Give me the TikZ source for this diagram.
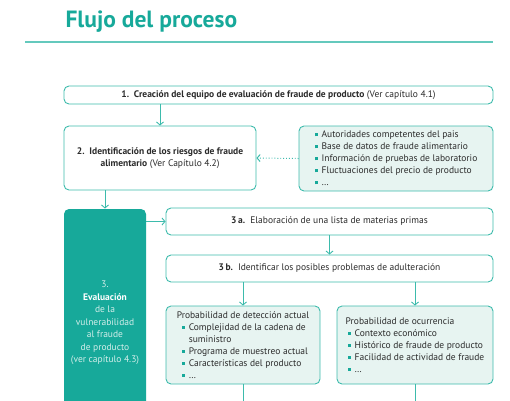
\documentclass[tikz,border=0pt]{standalone}
\usepackage{fontspec}
\setmainfont{PT Sans}
\usetikzlibrary{arrows.meta}
\definecolor{verdeazul}{HTML}{17A99A}
\definecolor{bordeazul}{HTML}{3DBBAC}
\definecolor{fondoclaro}{HTML}{E7F4F1}
\definecolor{textogris}{HTML}{2B2B2B}
\definecolor{textoclaro}{HTML}{D3EEEA}
\newcommand{\punto}{\textcolor{verdeazul}{\rule[1.4pt]{3pt}{3pt}}\hspace{4pt}}

\begin{document}
\begin{tikzpicture}[x=1pt, y=-1pt, % 1 px = 1 pt, y nach unten
  caja/.style={draw=bordeazul, line width=0.9pt, rounded corners=5pt, fill=white,
    text=textogris, font=\fontsize{9.5}{12}\selectfont, align=center, inner sep=2pt},
  cajaclara/.style={caja, fill=fondoclaro, align=left},
  flecha/.style={bordeazul, line width=0.9pt, -{Straight Barb[length=3pt,width=7pt]}}]

\clip (0,0) rectangle (510,400);

% Titel
\node[anchor=west, text=verdeazul, font=\fontsize{23.5}{27}\selectfont\bfseries] (titulo) at (62,22) {Flujo del proceso};
\draw[bordeazul!80, line width=1.2pt] (25,42) -- (493,42);

% Kästen
\node[caja, minimum width=429pt, minimum height=18pt] (paso1) at (278.5,95)
  {\textbf{1.\ \ Creación del equipo de evaluación de fraude de producto} (Ver capítulo 4.1)};
\node[caja, minimum width=192pt, minimum height=64pt] (paso2) at (160,158)
  {\textbf{2.\ \ Identificación de los riesgos de fraude}\\ \textbf{alimentario} (Ver Capítulo 4.2)};
\node[cajaclara, minimum width=194pt, minimum height=65pt] (fuentes) at (396,158.5)
  {\punto Autoridades competentes del pais\\
   \punto Base de datos de fraude alimentario\\
   \punto Información de pruebas de laboratorio\\
   \punto Fluctuaciones del precio de producto\\
   \punto \dots};
\node[caja, draw=none, fill=verdeazul, text=textoclaro, minimum width=82pt, minimum height=228pt,
  font=\fontsize{9.5}{12.5}\selectfont] (paso3) at (105,323)
  {3.\\ \textcolor{white}{\textbf{Evaluación}}\\ de la\\ vulnerabilidad\\ al fraude\\ de producto\\ (ver capítulo 4.3)};
\node[caja, minimum width=327pt, minimum height=27pt] (paso3a) at (329.5,221.5)
  {\textbf{3\,a.}\ \ Elaboración de una lista de materias primas};
\node[caja, minimum width=327pt, minimum height=27pt] (paso3b) at (329.5,268.5)
  {\textbf{3\,b.}\ \ Identificar los posibles problemas de adulteración};
\node[cajaclara, minimum width=154pt, minimum height=78pt] (deteccion) at (243,345)
  {Probabilidad de detección actual\\
   \hspace{5pt}\punto Complejidad de la cadena de\\
   \hspace{5pt}\phantom{\punto}suministro\\
   \hspace{5pt}\punto Programa de muestreo actual\\
   \hspace{5pt}\punto Características del producto\\
   \hspace{5pt}\punto \dots};
\node[cajaclara, minimum width=156pt, minimum height=78pt] (ocurrencia) at (415,345)
  {Probabilidad de ocurrencia\\
   \hspace{2pt}\punto Contexto económico\\
   \hspace{2pt}\punto Histórico de fraude de producto\\
   \hspace{2pt}\punto Facilidad de actividad de fraude\\
   \hspace{2pt}\punto \dots};
\coordinate (finA) at (243,410);
\coordinate (finB) at (415,410);

% Pfeile
\draw[flecha] (paso1.south -| paso2.north) -- (paso2.north);
\draw[flecha] (paso2.south -| paso3.north) -- (paso3.north);
\draw[flecha, dotted, line width=1pt] (fuentes.west) -- (paso2.east);
\draw[flecha] (paso3a.west -| paso3.east) -- (paso3a.west);
\draw[flecha] (paso3a) -- (paso3b);
\draw[flecha] (paso3b.south -| deteccion.north) -- (deteccion.north);
\draw[flecha] (paso3b.south -| ocurrencia.north) -- (ocurrencia.north);
\draw[bordeazul, line width=0.9pt] (deteccion.south) -- (finA);
\draw[bordeazul, line width=0.9pt] (ocurrencia.south) -- (finB);

\end{tikzpicture}
\end{document}
